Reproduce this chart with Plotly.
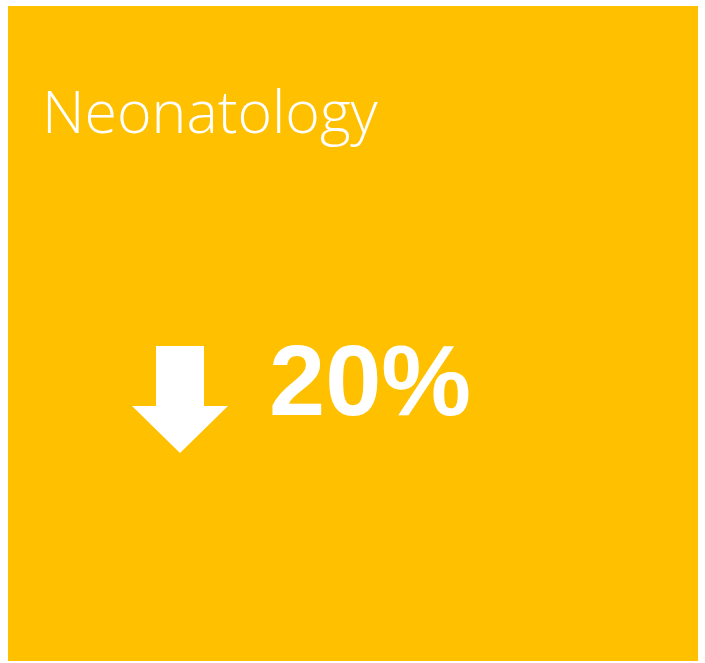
import plotly.graph_objects as go

# kpi tile data
title = "Neonatology"
change_pct = 20
direction = "down"

W, H = 705, 663
tile_color = "#FFC000"

fig = go.Figure()

# background tile
fig.add_shape(type="rect", x0=8, x1=698, y0=6, y1=661,
              fillcolor=tile_color, line_width=0, layer="below")

# arrow (down) built around its centre line
cx, top, neck, tip = 180, 346, 406, 453
shaft, head = 24, 48
ax = [cx - shaft, cx + shaft, cx + shaft, cx + head, cx, cx - head, cx - shaft, cx - shaft]
ay = [top, top, neck, neck, tip, neck, neck, top]
fig.add_trace(go.Scatter(x=ax, y=ay, fill="toself", fillcolor="white",
                         mode="lines", line=dict(color="white", width=0),
                         hoverinfo="skip", showlegend=False))

fig.add_annotation(x=40, y=110, xref="x", yref="y", text=title,
                   showarrow=False, xanchor="left", yanchor="middle",
                   font=dict(family="Open Sans", size=59, color="white", weight=300))

fig.add_annotation(x=267, y=380, xref="x", yref="y", text=f"{change_pct}%",
                   showarrow=False, xanchor="left", yanchor="middle",
                   font=dict(family="Liberation Sans", size=101, color="white", weight="bold"))

fig.update_xaxes(range=[0, W], visible=False, fixedrange=True)
fig.update_yaxes(range=[H, 0], visible=False, fixedrange=True)
fig.update_layout(width=W, height=H, margin=dict(l=0, r=0, t=0, b=0),
                  paper_bgcolor="white", plot_bgcolor="white")

fig.write_html("out.html", config={"displayModeBar": False},
               post_script="document.body.style.margin='0';")
